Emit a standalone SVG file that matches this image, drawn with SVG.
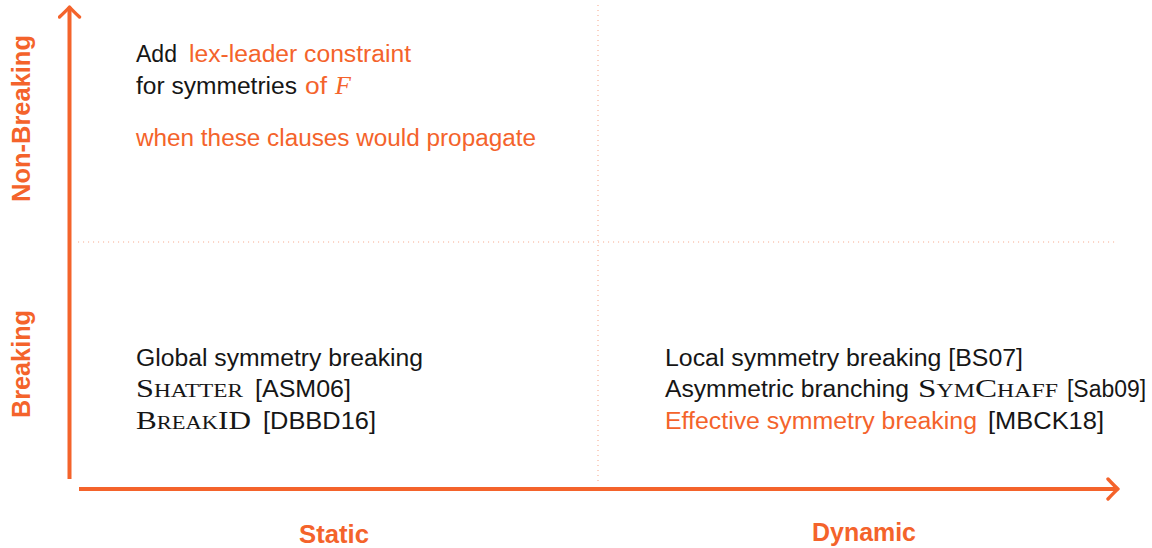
<svg xmlns="http://www.w3.org/2000/svg" width="1152" height="548" viewBox="0 0 1152 548">
  <style>
    .sans { font-family: "Liberation Sans", "DejaVu Sans", sans-serif; font-size: 23.5px; fill: #161616; }
    .sc { font-family: "Liberation Serif", "DejaVu Serif", serif; font-variant: small-caps; font-size: 25px; fill: #161616; }
    .math { font-family: "Liberation Serif", "DejaVu Serif", serif; font-style: italic; font-size: 26px; }
    .hl { fill: #F4632B; }
    .axislabel { font-family: "Liberation Sans", "DejaVu Sans", sans-serif; font-size: 26px; font-weight: bold; fill: #F4632B; }
    .axis { stroke: #F4632B; stroke-width: 4; fill: none; }
    .grid { stroke: #F7AE92; stroke-width: 1.1; stroke-dasharray: 1.1 3.9; fill: none; }
  </style>
  <defs>
    <marker id="head" viewBox="-12 -12 14 24" refX="0" refY="0" markerWidth="14" markerHeight="24" orient="auto" markerUnits="userSpaceOnUse">
      <path d="M-10,-10 Q-3,-2.5 0,0 Q-3,2.5 -10,10" fill="none" stroke="#F4632B" stroke-width="3.4" stroke-linecap="round" stroke-linejoin="round"/>
    </marker>
  </defs>

  <rect width="1152" height="548" fill="#fff"/>

  <!-- quadrant separators -->
  <g id="grid">
    <line class="grid" x1="78" y1="242" x2="1116" y2="242"/>
    <line class="grid" x1="598" y1="5" x2="598" y2="481"/>
  </g>

  <!-- axes -->
  <g id="connectors">
    <line class="axis" x1="69.5" y1="479" x2="69.5" y2="7" marker-end="url(#head)"/>
    <line class="axis" x1="79" y1="489" x2="1118" y2="489" marker-end="url(#head)"/>
  </g>

  <!-- axis labels -->
  <g id="label-nonbreaking">
    <text class="axislabel" transform="translate(30,202) rotate(-90)" textLength="167" lengthAdjust="spacingAndGlyphs">Non-Breaking</text>
  </g>
  <g id="label-breaking">
    <text class="axislabel" transform="translate(30,418) rotate(-90)" textLength="108" lengthAdjust="spacingAndGlyphs">Breaking</text>
  </g>
  <g id="label-static">
    <text class="axislabel" x="299" y="543" textLength="70" lengthAdjust="spacingAndGlyphs">Static</text>
  </g>
  <g id="label-dynamic">
    <text class="axislabel" x="812" y="541" textLength="104" lengthAdjust="spacingAndGlyphs">Dynamic</text>
  </g>

  <!-- static / non-breaking -->
  <g id="static-nonbreaking">
    <text class="sans" x="136" y="62" textLength="41" lengthAdjust="spacingAndGlyphs">Add</text>
    <text class="sans hl" x="189" y="62" textLength="222" lengthAdjust="spacingAndGlyphs">lex-leader constraint</text>
    <text class="sans" x="136" y="94" textLength="161" lengthAdjust="spacingAndGlyphs">for symmetries</text>
    <text class="sans hl" x="305" y="94" textLength="22" lengthAdjust="spacingAndGlyphs">of</text>
    <text class="math hl" x="335" y="94">F</text>
    <text class="sans hl" x="136" y="146" textLength="400" lengthAdjust="spacingAndGlyphs">when these clauses would propagate</text>
  </g>

  <!-- static / breaking -->
  <g id="static-breaking">
    <text class="sans" x="136" y="366" textLength="287" lengthAdjust="spacingAndGlyphs">Global symmetry breaking</text>
    <text class="sc" x="136" y="397" textLength="107" lengthAdjust="spacingAndGlyphs">Shatter</text>
    <text class="sans" x="255" y="397" textLength="96" lengthAdjust="spacingAndGlyphs">[ASM06]</text>
    <text class="sc" x="136" y="429" textLength="115" lengthAdjust="spacingAndGlyphs">BreakID</text>
    <text class="sans" x="263" y="429" textLength="113" lengthAdjust="spacingAndGlyphs">[DBBD16]</text>
  </g>

  <!-- dynamic / breaking -->
  <g id="dynamic-breaking">
    <text class="sans" x="665" y="366" textLength="358" lengthAdjust="spacingAndGlyphs">Local symmetry breaking [BS07]</text>
    <text class="sans" x="665" y="397" textLength="244" lengthAdjust="spacingAndGlyphs">Asymmetric branching</text>
    <text class="sc" x="918" y="397" textLength="140" lengthAdjust="spacingAndGlyphs">SymChaff</text>
    <text class="sans" x="1067" y="397" textLength="79" lengthAdjust="spacingAndGlyphs">[Sab09]</text>
    <text class="sans hl" x="665" y="429" textLength="312" lengthAdjust="spacingAndGlyphs">Effective symmetry breaking</text>
    <text class="sans" x="988" y="429" textLength="116" lengthAdjust="spacingAndGlyphs">[MBCK18]</text>
  </g>
</svg>
